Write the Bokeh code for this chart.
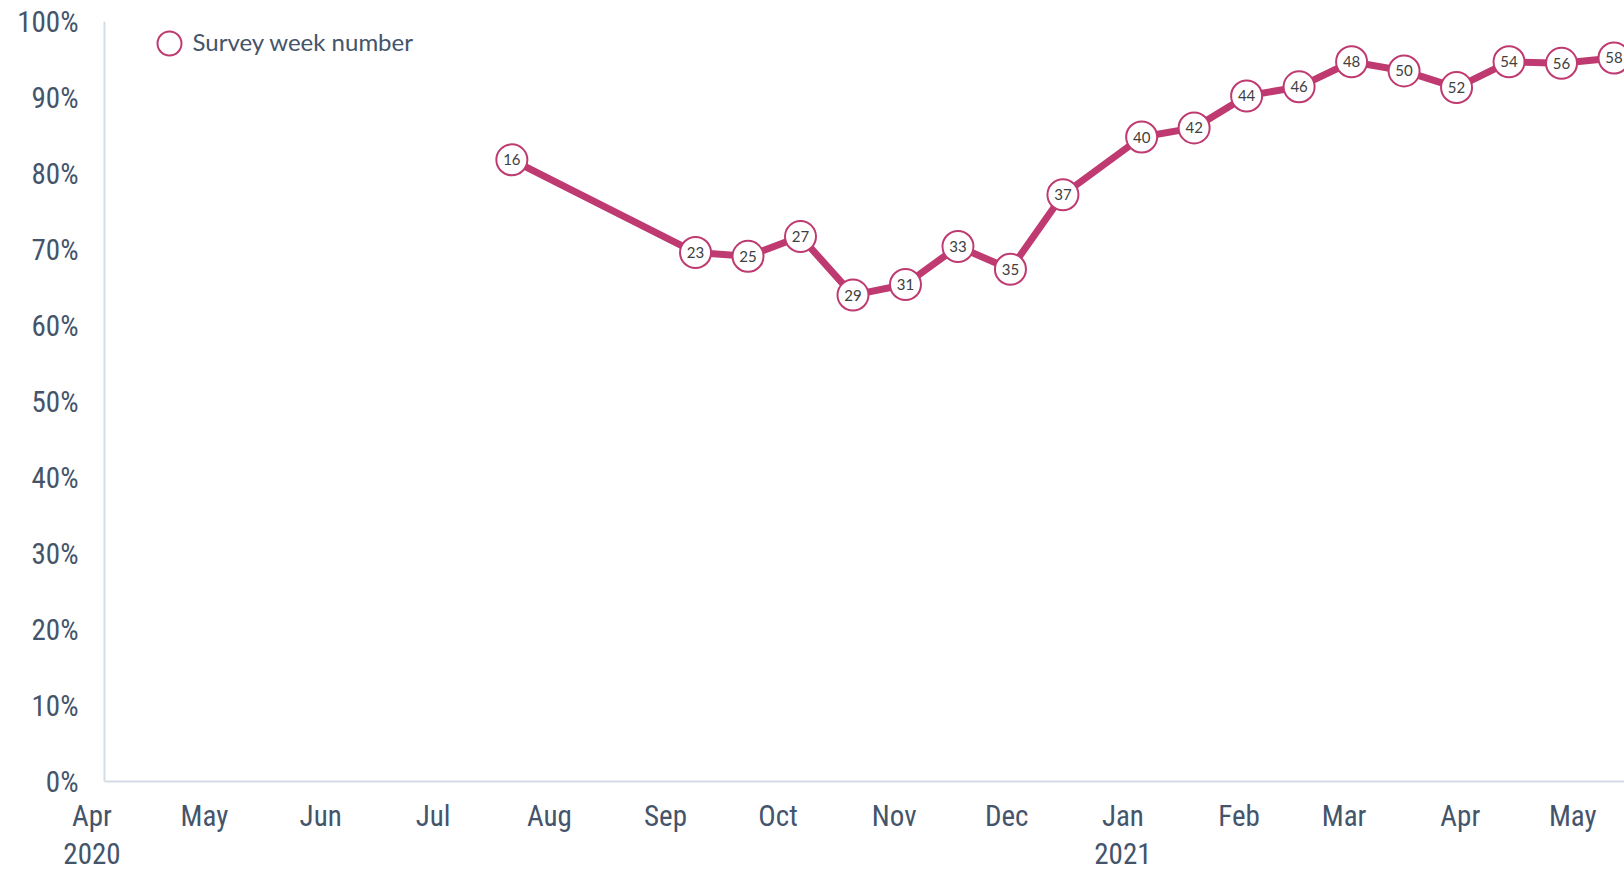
from datetime import datetime, timedelta
from bokeh.plotting import figure
from bokeh.models import (ColumnDataSource, Range1d, DatetimeAxis, FixedTicker,
                          NumeralTickFormatter, Span, Legend, LegendItem, Label)
from bokeh.core.properties import value
from bokeh.embed import file_html
from bokeh.resources import INLINE

# ---- data -------------------------------------------------------------
weeks = [16, 23, 25, 27, 29, 31, 33, 35, 37, 40, 42, 44, 46, 48, 50, 52, 54, 56, 58]
dates = ["2020-07-22", "2020-09-09", "2020-09-23", "2020-10-07", "2020-10-21",
         "2020-11-04", "2020-11-18", "2020-12-02", "2020-12-16", "2021-01-06",
         "2021-01-20", "2021-02-03", "2021-02-17", "2021-03-03", "2021-03-17",
         "2021-03-31", "2021-04-14", "2021-04-28", "2021-05-12"]
values = [0.818, 0.696, 0.691, 0.717, 0.640, 0.654, 0.704, 0.674, 0.772, 0.848,
          0.860, 0.902, 0.914, 0.947, 0.935, 0.913, 0.947, 0.945, 0.952]

month_ticks = ["2020-04-01", "2020-05-01", "2020-06-01", "2020-07-01", "2020-08-01",
               "2020-09-01", "2020-10-01", "2020-11-01", "2020-12-01", "2021-01-01",
               "2021-02-01", "2021-03-01", "2021-04-01", "2021-05-01"]
month_labels = ["Apr\n2020", "May", "Jun", "Jul", "Aug", "Sep", "Oct", "Nov", "Dec",
                "Jan\n2021", "Feb", "Mar", "Apr", "May"]
y_ticks = [0.0, 0.1, 0.2, 0.3, 0.4, 0.5, 0.6, 0.7, 0.8, 0.9, 1.0]
series_name = "Survey week number"

# ---- styling ----------------------------------------------------------
LINE = "#BE3A70"
TEXT = "#44546A"
AXIS = "#D6DCE5"
LABEL = "#404040"
TICK_FONT = "Liberation Sans Narrow, Roboto Condensed, Liberation Sans"

EPOCH = datetime(1970, 1, 1)


def ms(d):
    return (d - EPOCH).total_seconds() * 1000.0


def parse(s):
    return datetime.strptime(s, "%Y-%m-%d")


x_dates = [parse(d) for d in dates]
origin = datetime(2020, 4, 1)
x_start = origin - timedelta(days=0.93)
x_end = origin + timedelta(days=408.8)
axis_origin = origin + timedelta(days=3.33)

src = ColumnDataSource(dict(x=x_dates, y=values, lab=[str(w) for w in weeks]))

p = figure(width=1624, height=873, x_axis_type="datetime",
           x_range=Range1d(x_start, x_end), y_range=Range1d(0, 1),
           output_backend="svg", toolbar_location=None,
           min_border_left=88, min_border_right=0, min_border_top=21,
           min_border_bottom=0)
p.outline_line_color = None
p.grid.visible = False
p.background_fill_color = "white"

# y axis
ya = p.yaxis[0]
ya.ticker = FixedTicker(ticks=y_ticks)
ya.formatter = NumeralTickFormatter(format="0%")
ya.axis_line_color = None
ya.major_tick_line_color = None
ya.minor_tick_line_color = None
ya.major_label_standoff = 4
ya.major_label_text_font = TICK_FONT
ya.major_label_text_font_size = "29px"
ya.major_label_text_color = TEXT

# vertical axis line
p.add_layout(Span(location=ms(axis_origin), dimension="height",
                  line_color=AXIS, line_width=2))

# bottom axis: line only
xa = p.xaxis[0]
xa.bounds = (ms(axis_origin), ms(x_end))
xa.ticker = FixedTicker(ticks=[])
xa.axis_line_color = AXIS
xa.axis_line_width = 2
xa.major_tick_line_color = None
xa.minor_tick_line_color = None
xa.major_label_text_font_size = "0px"
xa.major_label_standoff = 0

# bottom axis: month labels
tick_ms = [ms(parse(t)) for t in month_ticks]
xl = DatetimeAxis(ticker=FixedTicker(ticks=tick_ms),
                  major_label_overrides={t: l for t, l in zip(tick_ms, month_labels)})
xl.axis_line_color = None
xl.major_tick_line_color = None
xl.minor_tick_line_color = None
xl.major_label_standoff = 11
xl.major_label_text_font = TICK_FONT
xl.major_label_text_font_size = "29px"
xl.major_label_text_color = TEXT
xl.major_label_text_line_height = 1.13
p.add_layout(xl, "below")

# series
p.line("x", "y", source=src, line_color=LINE, line_width=7)
r = p.scatter("x", "y", source=src, size=31, marker="circle",
              fill_color="white", line_color=LINE, line_width=2)
p.text("x", "y", text="lab", source=src, text_align="center",
       text_baseline="middle", text_font=value("Lato"),
       text_font_size="15px", text_color=LABEL)

# legend: marker from the Legend, text as a label next to it
legend = Legend(items=[LegendItem(label=" ", renderers=[r])],
                location=(51, 708), orientation="vertical",
                padding=0, margin=0, spacing=0,
                glyph_width=60, glyph_height=60, label_height=60,
                label_standoff=0, border_line_color=None,
                background_fill_alpha=0,
                label_text_font="Lato", label_text_font_size="24px",
                label_text_color=TEXT)
p.add_layout(legend)
p.add_layout(Label(x=104, y=740, x_units="screen", y_units="screen",
                   text=series_name, text_baseline="middle",
                   text_font="Lato", text_font_size="24px", text_color=TEXT))

open("out.html", "w").write(file_html(p, INLINE))
